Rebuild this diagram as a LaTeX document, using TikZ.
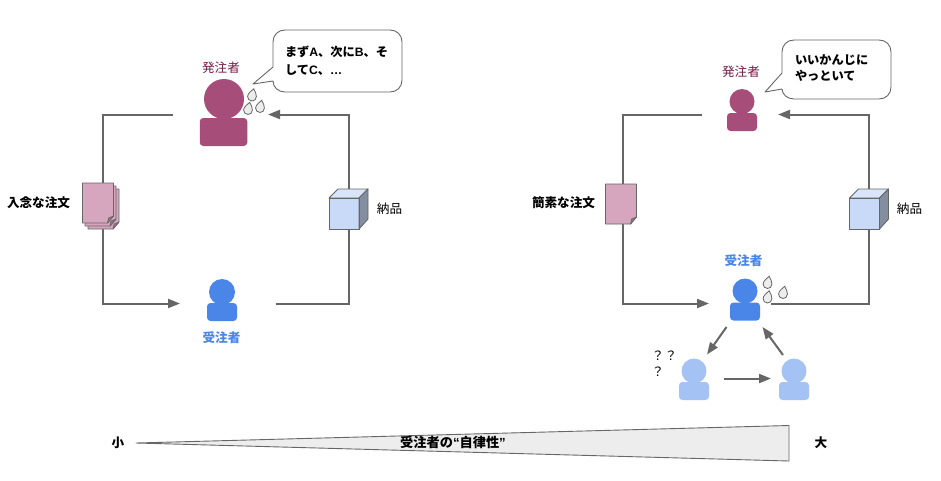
\documentclass[tikz,border=0pt]{standalone}
\usepackage{fontspec}
\setmainfont{Noto Sans CJK JP}
\newfontfamily\lat{Liberation Sans}
\usetikzlibrary{arrows.meta}
\definecolor{cpurple}{HTML}{A64D79}
\definecolor{cpurpletext}{HTML}{741B47}
\definecolor{cblue}{HTML}{4A86E8}
\definecolor{clight}{HTML}{A4C2F4}
\definecolor{cdoc}{HTML}{D5A6BD}
\definecolor{ccube}{HTML}{C9DAF8}
\definecolor{cline}{HTML}{666666}
\definecolor{carrow}{HTML}{666666}
\tikzset{
  x=1pt,y=-1pt,
  every node/.style={inner sep=0pt,outer sep=0pt},
  flow/.style={draw=carrow,line width=2pt,-{Triangle[length=12pt,width=9pt]}},
  flowplain/.style={draw=carrow,line width=2pt},
  head/.style={circle,fill=#1,minimum size=25pt},
  bodybox/.style={rectangle,rounded corners=3.5pt,fill=#1,minimum width=30pt,minimum height=18pt},
  lbl/.style={font=\fontsize{12.6}{14}\selectfont},
  blbl/.style={font=\fontsize{12.6}{14}\selectfont\bfseries},
  bubble/.style={draw=carrow,fill=white,line width=0.9pt,line join=round},
  bubbletext/.style={font=\fontsize{12.2}{#1}\selectfont\bfseries,align=left,anchor=north west},
  sheet/.style={draw=carrow,fill=cdoc,line width=0.9pt,line join=round},
  fold/.style={draw=carrow,fill=cdoc!70!black,line width=0.6pt,line join=round},
  cubeline/.style={draw=carrow,line width=0.9pt,line join=round},
  pics/waterdrop/.style={code={
    \draw[draw=cline,fill=black!7,line width=0.8pt,scale=1.1] (1.5,-6) .. controls (3,-3.5) and (4,-1.5) .. (4,1) .. controls (4,3.5) and (2,5) .. (0,5) .. controls (-2.5,5) and (-4,3) .. (-4,1) .. controls (-4,-1.5) and (-1,-4) .. cycle;
  }},
  pics/cubeicon/.style={code={
    \fill[ccube] (0,0) rectangle (30,31);
    \draw[cubeline,fill=ccube!70!white] (0,0) -- (9,-9) -- (39,-9) -- (30,0) -- cycle;
    \draw[cubeline,fill=ccube!65!black] (30,0) -- (39,-9) -- (39,21) -- (30,31) -- cycle;
    \draw[cubeline] (0,0) rectangle (30,31);
  }},
}
\newcommand{\sheetat}[2]{%
  \draw[sheet] (#1,#2) -- (#1+31,#2) -- (#1+31,#2+33) -- (#1+25,#2+40) -- (#1,#2+40) -- cycle;
  \draw[fold] (#1+31,#2+33) -- (#1+26,#2+35) -- (#1+25,#2+40) -- cycle;
}
\begin{document}
\begin{tikzpicture}
\useasboundingbox[fill=white] (0,0) rectangle (941,480);

% --- left loop ---
\coordinate (la) at (172.5,114.5);
\coordinate (lb) at (102.5,183);
\coordinate (lc) at (102.5,229);
\coordinate (ld) at (180,303.5);
\coordinate (le) at (275.5,303.5);
\coordinate (lf) at (348.5,229);
\coordinate (lg) at (348.5,190);
\coordinate (lh) at (268,114.5);
\draw[flowplain] (la) -| (lb);
\draw[flow] (lc) |- (ld);
\draw[flowplain] (le) -| (lf);
\draw[flow] (lg) |- (lh);

% --- right loop ---
\coordinate (ra) at (701.5,114.5);
\coordinate (rb) at (622.5,184);
\coordinate (rc) at (622.5,224);
\coordinate (rd) at (709,303.5);
\coordinate (re) at (771,303.5);
\coordinate (rf) at (868.5,229);
\coordinate (rg) at (868.5,190);
\coordinate (rh) at (778,114.5);
\draw[flowplain] (ra) -| (rb);
\draw[flow] (rc) |- (rd);
\draw[flowplain] (re) -| (rf);
\draw[flow] (rg) |- (rh);

% --- people ---
\node[head=cpurple,minimum size=40pt] (clientA) at (224,99) {};
\node[bodybox=cpurple,minimum width=47.5pt,minimum height=28pt] (clientAb) at (223.5,132) {};
\node[head=cblue,minimum size=26pt] (recvA) at (222,292) {};
\node[bodybox=cblue] (recvAb) at (222,312) {};
\node[head=cpurple] (clientB) at (742,101.5) {};
\node[bodybox=cpurple] (clientBb) at (742,122) {};
\node[head=cblue] (recvB) at (745,291) {};
\node[bodybox=cblue] (recvBb) at (745,311.5) {};
\node[head=clight] (subA) at (694,371) {};
\node[bodybox=clight] (subAb) at (694,391) {};
\node[head=clight] (subB) at (794,371) {};
\node[bodybox=clight] (subBb) at (794,391) {};

% --- team arrows ---
\coordinate (ta) at (726.5,327);
\coordinate (tb) at (707,354.5);
\coordinate (tc) at (723.5,378.5);
\coordinate (td) at (771,378.5);
\coordinate (te) at (783,355);
\coordinate (tf) at (762.5,327);
\draw[flow] (ta) -- (tb);
\draw[flow] (tc) -- (td);
\draw[flow] (te) -- (tf);

% --- documents ---
\sheetat{88}{189}
\sheetat{85}{186}
\sheetat{82.5}{183}
\sheetat{605.5}{184}

% --- cubes ---
\pic at (329,198) {cubeicon};
\pic at (849.5,198) {cubeicon};

% --- drops ---
\pic at (252,95.5) {waterdrop};
\pic at (248,109) {waterdrop};
\pic at (260,107) {waterdrop};
\pic at (767.5,283) {waterdrop};
\pic at (767.5,297.5) {waterdrop};
\pic at (783,293) {waterdrop};

% --- bubbles ---
\draw[bubble] (285,30) -- (390,30) .. controls (397,30) and (402,35) .. (402,42) -- (402,80) .. controls (402,87) and (397,92) .. (390,92) -- (285,92) .. controls (278,92) and (273,87) .. (273,81) -- (253,84) -- (273,67) -- (273,42) .. controls (273,35) and (278,30) .. (285,30) -- cycle;
\node[bubbletext=18] (bubA) at (285,46) {まず{\lat A}、次に{\lat B}、そ\\して{\lat C}、{\lat …}};
\draw[bubble] (794,40) -- (879,40) .. controls (886,40) and (891,45) .. (891,52) -- (891,87) .. controls (891,94) and (886,99) .. (879,99) -- (794,99) .. controls (787,99) and (782,94) .. (782,89) -- (765,92) -- (782,73) -- (782,52) .. controls (782,45) and (787,40) .. (794,40) -- cycle;
\node[bubbletext=16] (bubB) at (795,55) {いいかんじに\\やっといて};

% --- labels ---
\node[lbl,text=cpurpletext] (t1) at (221,68) {発注者};
\node[lbl,text=cpurpletext] (t2) at (741,72) {発注者};
\node[blbl,text=cblue] (t3) at (221.5,338) {受注者};
\node[blbl,text=cblue] (t4) at (743.5,261) {受注者};
\node[blbl] (t5) at (38.5,203) {入念な注文};
\node[blbl] (t6) at (563.5,203) {簡素な注文};
\node[lbl] (t7) at (389.5,209) {納品};
\node[lbl] (t8) at (909.5,209) {納品};
\node[lbl] (q1) at (658,356) {？};
\node[lbl] (q2) at (671,356) {？};
\node[lbl] (q3) at (658,372) {？};

% --- scale ---
\coordinate (wa) at (136,443);
\coordinate (wb) at (789,425.5);
\coordinate (wc) at (789,461);
\draw[draw=carrow,fill=black!7,line width=0.9pt,line join=round] (wa) -- (wb) -- (wc) -- cycle;
\node[blbl,font=\fontsize{13.2}{15}\selectfont\bfseries] (t9) at (453,442.5) {受注者の{\lat “}自律性{\lat ”}};
\node[blbl] (t10) at (118,442.5) {小};
\node[blbl] (t11) at (821,442.5) {大};
\end{tikzpicture}
\end{document}
